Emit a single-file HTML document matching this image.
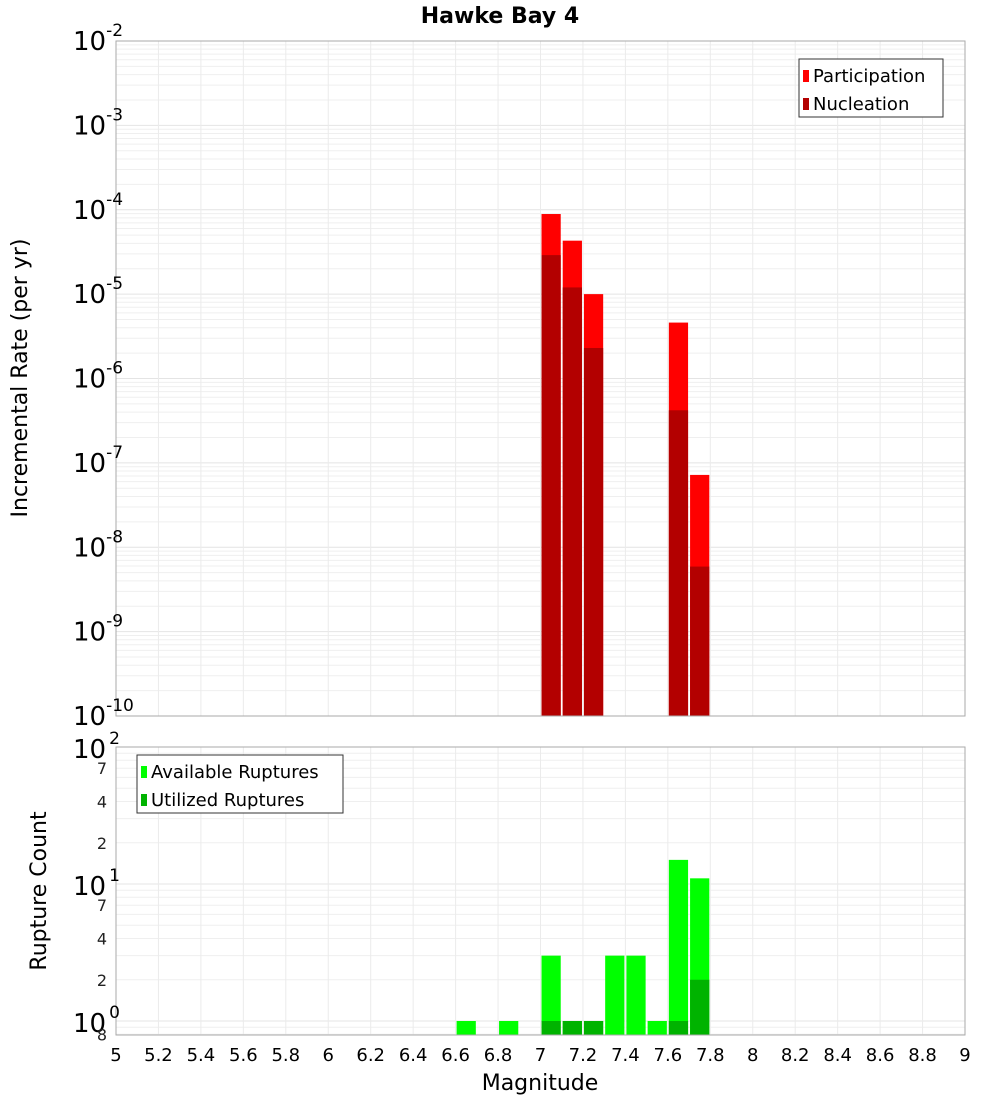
<!DOCTYPE html>
<html><head><meta charset="utf-8"><style>
body{margin:0;background:#fff;font-family:"DejaVu Sans","Liberation Sans",sans-serif;}
svg text{font-family:"DejaVu Sans","Liberation Sans",sans-serif;}
</style></head><body>
<svg id="c" width="1000" height="1100" xmlns="http://www.w3.org/2000/svg">
<text x="500" y="23" text-anchor="middle" font-size="22" font-weight="bold">Hawke Bay 4</text>
<text transform="translate(27,378) rotate(-90)" text-anchor="middle" font-size="22">Incremental Rate (per yr)</text>
<text transform="translate(46,891) rotate(-90)" text-anchor="middle" font-size="22">Rupture Count</text>
<text x="540" y="1090" text-anchor="middle" font-size="22">Magnitude</text>
</svg>
<script>
const mags=[7.05,7.15,7.25,7.65,7.75];
const participation=[8.9e-5,4.3e-5,1.0e-5,4.6e-6,7.2e-8];
const nucleation=[2.9e-5,1.2e-5,2.3e-6,4.2e-7,5.9e-9];
const countMags=[6.65,6.85,7.05,7.15,7.25,7.35,7.45,7.55,7.65,7.75];
const available=[1,1,3,1,1,3,3,1,15,11];
const utilized=[0,0,1,1,1,0,0,0,1,2];
const xTicks=[5,5.2,5.4,5.6,5.8,6,6.2,6.4,6.6,6.8,7,7.2,7.4,7.6,7.8,8,8.2,8.4,8.6,8.8,9];
const topExps=[-2,-3,-4,-5,-6,-7,-8,-9,-10];
const botMinor=[[7,"7"],[4,"4"],[2,"2"],[70,"7"],[40,"4"],[20,"2"],[0.8,"8"]];

const svg=document.getElementById('c');const NS="http://www.w3.org/2000/svg";
function mk(t,a,p){const e=document.createElementNS(NS,t);for(const k in a)e.setAttribute(k,a[k]);(p||svg).appendChild(e);return e;}
const L=116,R=965;
const x=v=>L+(v-5)/4*(R-L);
const T0=41,T1=716;const yT=v=>T0+(-2-Math.log10(v))/8*(T1-T0);
const B0=747,B1=1035;const yB=v=>1021-Math.log10(v)*137;
// grids
function grid(y0,y1,yf,lo,hi,name){
 const g=mk('g',{});
 for(let e=lo;e<hi;e++)for(let m=1;m<10;m++){const v=m*Math.pow(10,e);const yy=yf(v);if(yy<y0-0.5||yy>y1+0.5)continue;
  mk('line',{x1:L,x2:R,y1:yy,y2:yy,stroke:m==1?'#e4e4e4':'#efefef','stroke-width':1},g);}
 xTicks.forEach(t=>mk('line',{x1:x(t),x2:x(t),y1:y0,y2:y1,stroke:'#ebebeb'},g));
}
grid(T0,T1,yT,-10,-1,'top-grid');
grid(B0,B1,yB,-1,3,'bottom-grid');
// top bars
mags.forEach((m,i)=>{
 const w=x(0.1)-x(0)-2,xx=x(m-0.05)+1;
 let r=mk('rect',{x:xx,y:yT(participation[i]),width:w,height:T1-yT(participation[i]),fill:'#ff0000'});
 
 r=mk('rect',{x:xx,y:yT(nucleation[i]),width:w,height:T1-yT(nucleation[i]),fill:'#b30000'});
 
});
countMags.forEach((m,i)=>{
 const w=x(0.1)-x(0)-2,xx=x(m-0.05)+1;
 let r=mk('rect',{x:xx,y:yB(available[i]),width:w,height:B1-yB(available[i]),fill:'#00ff00'});
 
 if(utilized[i]>0){r=mk('rect',{x:xx,y:yB(utilized[i]),width:w,height:B1-yB(utilized[i]),fill:'#00b300'});
 }
});
let f=mk('rect',{x:L,y:T0,width:R-L,height:T1-T0,fill:'none',stroke:'#aaa'});

f=mk('rect',{x:L,y:B0,width:R-L,height:B1-B0,fill:'none',stroke:'#aaa'});

// top y labels
topExps.forEach(e=>{const yy=yT(Math.pow(10,e));
 const t=mk('text',{x:73,y:yy+9,'font-size':26});
 t.textContent='10';const s=mk('tspan',{dy:-14,'font-size':17},t);s.textContent=String(e);});
[[0,'0'],[1,'1'],[2,'2']].forEach(([e,s])=>{const yy=yB(Math.pow(10,e));
 const t=mk('text',{x:73,y:yy+11,'font-size':26});
 t.textContent='10';const sp=mk('tspan',{dx:3,dy:-14,'font-size':17},t);sp.textContent=s;});
botMinor.forEach(([v,s])=>{const t=mk('text',{x:107,y:yB(v)+6,'font-size':16,'text-anchor':'end',fill:'#222'});
 t.textContent=s;});
xTicks.forEach(v=>{const t=mk('text',{x:x(v),y:1061,'font-size':18,'text-anchor':'middle'});
 t.textContent=String(v);});
// legends
function legend(x0,y0,w,items,name){const g=mk('g',{});
 mk('rect',{x:x0,y:y0,width:w,height:58,fill:'#fff',stroke:'#333'},g);
 items.forEach(([c,l],i)=>{mk('rect',{x:x0+4,y:y0+11+i*28,width:6,height:12,fill:c},g);
  const t=mk('text',{x:x0+14,y:y0+23+i*28,'font-size':18},g);t.textContent=l;});}
legend(799,59,144,[['#ff0000','Participation'],['#b30000','Nucleation']],'top-legend');
legend(137,755,206,[['#00ff00','Available Ruptures'],['#00b300','Utilized Ruptures']],'bottom-legend');
</script>
</body></html>
